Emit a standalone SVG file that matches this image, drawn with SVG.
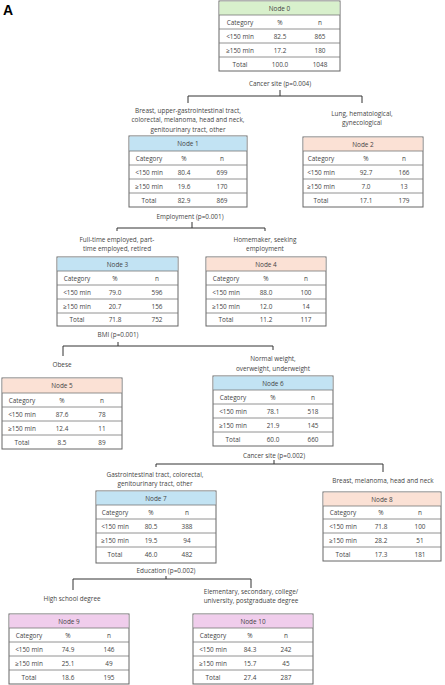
<svg xmlns="http://www.w3.org/2000/svg" width="445" height="685" viewBox="0 0 445 685">
<style>
text{font-family:"Open Sans","Liberation Sans",sans-serif;font-size:6.4px;fill:#444;text-anchor:middle}
.title{font-family:"Liberation Sans",Arial,sans-serif;font-weight:bold;font-size:14px;fill:#000;text-anchor:start}
.box{fill:#fff;stroke:#666;stroke-width:1}
.rule{stroke:#777;stroke-width:0.8}
.green{fill:#d8f0cc}.blue{fill:#c2e3f3}.peach{fill:#fbe1d5}.pink{fill:#f0cdec}
.conn path{fill:none;stroke:#333;stroke-width:1}
</style>
<rect width="445" height="685" fill="#fff"/>
<text class="title" x="3" y="15">A</text>

<g class="conn" id="connectors">
<path d="M280,90 V96 M188,103 V96 H362 V103"/>
<path d="M192,222 V228 M117,231 V228 H265 V231"/>
<path d="M118,342 V346 M63,356 V346 H273 V350"/>
<path d="M274,460 V464 M156,467 V464 H383 V472"/>
<path d="M166,576 V579 M73,590 V579 H251 V588"/>
</g>

<g id="split-labels">
<text x="280" y="85.5">Cancer site (p=0.004)</text>
<text x="188" y="112.5">Breast, upper-gastrointestinal tract,</text>
<text x="188" y="122">colorectal, melanoma, head and neck,</text>
<text x="188" y="131.5">genitourinary tract, other</text>
<text x="362" y="115.5">Lung, hematological,</text>
<text x="362" y="124.5">gynecological</text>
<text x="190" y="218.5">Employment (p=0.001)</text>
<text x="117" y="241.5">Full-time employed, part-</text>
<text x="117" y="250.5">time employed, retired</text>
<text x="265" y="241.5">Homemaker, seeking</text>
<text x="265" y="250.5">employment</text>
<text x="118" y="336.5">BMI (p=0.001)</text>
<text x="62" y="366.5">Obese</text>
<text x="273" y="360.5">Normal weight,</text>
<text x="273" y="370.5">overweight, underweight</text>
<text x="274" y="457.5">Cancer site (p=0.002)</text>
<text x="155" y="476.5">Gastrointestinal tract, colorectal,</text>
<text x="155" y="485.5">genitourinary tract, other</text>
<text x="383" y="483">Breast, melanoma, head and neck</text>
<text x="166" y="572.5">Education (p=0.002)</text>
<text x="72" y="600.5">High school degree</text>
<text x="251" y="593.5">Elementary, secondary, college/</text>
<text x="251" y="602.5">university, postgraduate degree</text>
</g>

<g id="node0" transform="translate(219,1)">
<rect class="box" width="121" height="70"/><rect class="green" x="0.5" y="0.5" width="120" height="13.5"/>
<path class="rule" d="M0,14 H121 M0,28 H121 M0,42 H121 M0,56 H121"/>
<text x="60.5" y="9.5">Node 0</text>
<text x="21" y="23.5">Category</text><text x="61" y="23.5">%</text><text x="101" y="23.5">n</text>
<text x="21" y="37.5">&lt;150 min</text><text x="61" y="37.5">82.5</text><text x="101" y="37.5">865</text>
<text x="21" y="51.5">≥150 min</text><text x="61" y="51.5">17.2</text><text x="101" y="51.5">180</text>
<text x="21" y="65.5">Total</text><text x="61" y="65.5">100.0</text><text x="101" y="65.5">1048</text>
</g>

<g id="node1" transform="translate(129,136)">
<rect class="box" width="118" height="71"/><rect class="blue" x="0.5" y="0.5" width="117" height="14.5"/>
<path class="rule" d="M0,15 H118 M0,29 H118 M0,43 H118 M0,57 H118"/>
<text x="59" y="10">Node 1</text>
<text x="20" y="24.5">Category</text><text x="55" y="24.5">%</text><text x="93" y="24.5">n</text>
<text x="20" y="38.5">&lt;150 min</text><text x="55" y="38.5">80.4</text><text x="93" y="38.5">699</text>
<text x="20" y="52.5">≥150 min</text><text x="55" y="52.5">19.6</text><text x="93" y="52.5">170</text>
<text x="20" y="66.5">Total</text><text x="55" y="66.5">82.9</text><text x="93" y="66.5">869</text>
</g>

<g id="node2" transform="translate(303,137)">
<rect class="box" width="120" height="70"/><rect class="peach" x="0.5" y="0.5" width="119" height="13.5"/>
<path class="rule" d="M0,14 H120 M0,28 H120 M0,42 H120 M0,56 H120"/>
<text x="60" y="9.5">Node 2</text>
<text x="18" y="23.5">Category</text><text x="63" y="23.5">%</text><text x="101" y="23.5">n</text>
<text x="18" y="37.5">&lt;150 min</text><text x="63" y="37.5">92.7</text><text x="101" y="37.5">166</text>
<text x="18" y="51.5">≥150 min</text><text x="63" y="51.5">7.0</text><text x="101" y="51.5">13</text>
<text x="18" y="65.5">Total</text><text x="63" y="65.5">17.1</text><text x="101" y="65.5">179</text>
</g>

<g id="node3" transform="translate(57,257)">
<rect class="box" width="121" height="69"/><rect class="blue" x="0.5" y="0.5" width="120" height="13.5"/>
<path class="rule" d="M0,14 H121 M0,28 H121 M0,42 H121 M0,56 H121"/>
<text x="60.5" y="9.5">Node 3</text>
<text x="20" y="23.5">Category</text><text x="58" y="23.5">%</text><text x="100" y="23.5">n</text>
<text x="20" y="37.5">&lt;150 min</text><text x="58" y="37.5">79.0</text><text x="100" y="37.5">596</text>
<text x="20" y="51.5">≥150 min</text><text x="58" y="51.5">20.7</text><text x="100" y="51.5">156</text>
<text x="20" y="65">Total</text><text x="58" y="65">71.8</text><text x="100" y="65">752</text>
</g>

<g id="node4" transform="translate(206,257)">
<rect class="box" width="120" height="69"/><rect class="peach" x="0.5" y="0.5" width="119" height="13.5"/>
<path class="rule" d="M0,14 H120 M0,28 H120 M0,42 H120 M0,56 H120"/>
<text x="60" y="9.5">Node 4</text>
<text x="20" y="23.5">Category</text><text x="60" y="23.5">%</text><text x="100" y="23.5">n</text>
<text x="20" y="37.5">&lt;150 min</text><text x="60" y="37.5">88.0</text><text x="100" y="37.5">100</text>
<text x="20" y="51.5">≥150 min</text><text x="60" y="51.5">12.0</text><text x="100" y="51.5">14</text>
<text x="20" y="65">Total</text><text x="60" y="65">11.2</text><text x="100" y="65">117</text>
</g>

<g id="node5" transform="translate(2,378)">
<rect class="box" width="120" height="71"/><rect class="peach" x="0.5" y="0.5" width="119" height="14.5"/>
<path class="rule" d="M0,15 H120 M0,29 H120 M0,43 H120 M0,57 H120"/>
<text x="60" y="10">Node 5</text>
<text x="20" y="24.5">Category</text><text x="60" y="24.5">%</text><text x="100" y="24.5">n</text>
<text x="20" y="38.5">&lt;150 min</text><text x="60" y="38.5">87.6</text><text x="100" y="38.5">78</text>
<text x="20" y="52.5">≥150 min</text><text x="60" y="52.5">12.4</text><text x="100" y="52.5">11</text>
<text x="20" y="66.5">Total</text><text x="60" y="66.5">8.5</text><text x="100" y="66.5">89</text>
</g>

<g id="node6" transform="translate(213,376)">
<rect class="box" width="120" height="70"/><rect class="blue" x="0.5" y="0.5" width="119" height="13.5"/>
<path class="rule" d="M0,14 H120 M0,28 H120 M0,42 H120 M0,56 H120"/>
<text x="60" y="9.5">Node 6</text>
<text x="20" y="23.5">Category</text><text x="60" y="23.5">%</text><text x="100" y="23.5">n</text>
<text x="20" y="37.5">&lt;150 min</text><text x="60" y="37.5">78.1</text><text x="100" y="37.5">518</text>
<text x="20" y="51.5">≥150 min</text><text x="60" y="51.5">21.9</text><text x="100" y="51.5">145</text>
<text x="20" y="65.5">Total</text><text x="60" y="65.5">60.0</text><text x="100" y="65.5">660</text>
</g>

<g id="node7" transform="translate(96,491)">
<rect class="box" width="120" height="72"/><rect class="blue" x="0.5" y="0.5" width="119" height="13.5"/>
<path class="rule" d="M0,14 H120 M0,28 H120 M0,42 H120 M0,56 H120"/>
<text x="60" y="9.5">Node 7</text>
<text x="19" y="23.5">Category</text><text x="55" y="23.5">%</text><text x="91" y="23.5">n</text>
<text x="19" y="37.5">&lt;150 min</text><text x="55" y="37.5">80.5</text><text x="91" y="37.5">388</text>
<text x="19" y="51.5">≥150 min</text><text x="55" y="51.5">19.5</text><text x="91" y="51.5">94</text>
<text x="19" y="66">Total</text><text x="55" y="66">46.0</text><text x="91" y="66">482</text>
</g>

<g id="node8" transform="translate(323,492)">
<rect class="box" width="118" height="69"/><rect class="peach" x="0.5" y="0.5" width="117" height="13.5"/>
<path class="rule" d="M0,14 H118 M0,27 H118 M0,41 H118 M0,55 H118"/>
<text x="59" y="9.5">Node 8</text>
<text x="20" y="23">Category</text><text x="58" y="23">%</text><text x="97" y="23">n</text>
<text x="20" y="36.5">&lt;150 min</text><text x="58" y="36.5">71.8</text><text x="97" y="36.5">100</text>
<text x="20" y="50.5">≥150 min</text><text x="58" y="50.5">28.2</text><text x="97" y="50.5">51</text>
<text x="20" y="64.5">Total</text><text x="58" y="64.5">17.3</text><text x="97" y="64.5">181</text>
</g>

<g id="node9" transform="translate(9,614)">
<rect class="box" width="120" height="70"/><rect class="pink" x="0.5" y="0.5" width="119" height="13.5"/>
<path class="rule" d="M0,14 H120 M0,28 H120 M0,42 H120 M0,56 H120"/>
<text x="60" y="9.5">Node 9</text>
<text x="20" y="23.5">Category</text><text x="59" y="23.5">%</text><text x="100" y="23.5">n</text>
<text x="20" y="37.5">&lt;150 min</text><text x="59" y="37.5">74.9</text><text x="100" y="37.5">146</text>
<text x="20" y="51.5">≥150 min</text><text x="59" y="51.5">25.1</text><text x="100" y="51.5">49</text>
<text x="20" y="65.5">Total</text><text x="59" y="65.5">18.6</text><text x="100" y="65.5">195</text>
</g>

<g id="node10" transform="translate(193,614)">
<rect class="box" width="120" height="70"/><rect class="pink" x="0.5" y="0.5" width="119" height="13.5"/>
<path class="rule" d="M0,14 H120 M0,28 H120 M0,42 H120 M0,56 H120"/>
<text x="60" y="9.5">Node 10</text>
<text x="20" y="23.5">Category</text><text x="57" y="23.5">%</text><text x="93" y="23.5">n</text>
<text x="20" y="37.5">&lt;150 min</text><text x="57" y="37.5">84.3</text><text x="93" y="37.5">242</text>
<text x="20" y="51.5">≥150 min</text><text x="57" y="51.5">15.7</text><text x="93" y="51.5">45</text>
<text x="20" y="65.5">Total</text><text x="57" y="65.5">27.4</text><text x="93" y="65.5">287</text>
</g>
</svg>
